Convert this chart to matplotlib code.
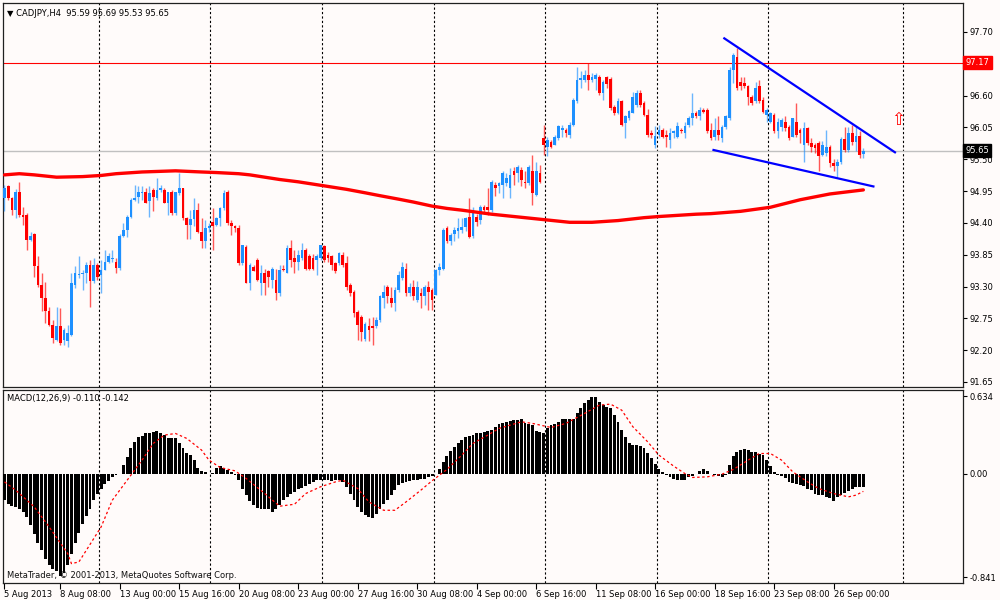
import matplotlib
matplotlib.use("Agg")
import matplotlib.pyplot as plt
import matplotlib.transforms as mtransforms
import numpy as np

# ---- CADJPY H4 candles (bar index 0 = 5 Aug 2013 20:00) ----
opens = [
    94.83, 95.03, 94.83, 94.63, 94.94, 94.54, 94.54, 94.11, 94.20, 93.65,
    93.33, 93.10, 92.87, 92.64, 92.38, 92.61, 92.38, 92.35, 92.47, 93.33,
    93.50, 93.52, 93.53, 93.67, 93.39, 93.67, 93.50, 93.59, 93.73, 93.78,
    93.73, 93.62, 94.18, 94.28, 94.51, 94.80, 94.85, 94.91, 94.94, 94.77,
    94.97, 94.83, 94.97, 94.97, 94.74, 94.94, 94.57, 94.91, 95.00, 94.48,
    94.37, 94.46, 94.63, 94.25, 94.08, 94.31, 94.42, 94.36, 94.48, 94.65,
    94.94, 94.40, 94.34, 94.31, 93.70, 93.99, 93.36, 93.64, 93.76, 93.36,
    93.53, 93.56, 93.41, 93.41, 93.18, 93.61, 93.53, 93.96, 93.79, 93.73,
    93.79, 93.93, 93.82, 93.79, 93.76, 93.79, 94.00, 93.85, 93.82, 93.70,
    93.70, 93.85, 93.70, 93.33, 93.21, 92.86, 92.78, 92.40, 92.61, 92.61,
    92.61, 92.72, 93.10, 93.30, 93.10, 93.01, 93.24, 93.44, 93.61, 93.18,
    93.30, 93.07, 93.18, 93.13, 93.30, 93.24, 93.15, 93.58, 93.61, 94.31,
    94.08, 94.20, 94.26, 94.28, 94.33, 94.51, 94.18, 94.50, 94.45, 94.68,
    94.67, 94.62, 95.06, 95.03, 95.05, 95.09, 95.00, 95.29, 95.26, 95.31,
    95.11, 95.09, 95.29, 94.88, 95.26, 95.86, 95.72, 95.80, 95.75, 95.86,
    96.01, 96.01, 95.92, 96.09, 96.50, 96.87, 96.87, 96.96, 96.87, 96.88,
    96.93, 96.64, 96.92, 96.88, 96.41, 96.30, 96.50, 96.12, 96.21, 96.30,
    96.44, 96.64, 96.47, 96.27, 95.95, 95.75, 95.92, 96.01, 95.92, 95.83,
    95.95, 95.89, 96.01, 95.95, 96.09, 96.21, 96.30, 96.24, 96.35, 96.35,
    96.01, 95.89, 96.01, 95.86, 96.06, 96.21, 97.04, 97.27, 96.84, 96.81,
    96.76, 96.58, 96.50, 96.76, 96.53, 96.27, 96.15, 96.27, 95.98, 96.06,
    96.15, 96.06, 95.89, 96.15, 96.01, 95.75, 96.04, 95.78, 95.75, 95.78,
    95.58, 95.60, 95.72, 95.43, 95.38, 95.45, 95.85, 95.66, 95.95, 95.80,
    95.90, 95.59,
]
highs = [
    95.06, 95.05, 94.85, 94.98, 95.11, 94.68, 94.57, 94.25, 94.22, 93.82,
    93.53, 93.37, 92.95, 92.72, 92.95, 92.93, 92.58, 92.64, 93.53, 93.65,
    93.82, 93.59, 93.73, 93.76, 93.79, 93.70, 93.76, 93.93, 93.88, 93.93,
    93.79, 94.20, 94.39, 94.54, 94.83, 95.06, 95.03, 95.04, 95.00, 95.03,
    95.00, 95.17, 95.06, 95.00, 94.94, 94.97, 94.94, 95.26, 95.00, 94.51,
    94.62, 94.83, 94.74, 94.48, 94.45, 94.40, 94.65, 94.51, 94.68, 94.97,
    94.97, 94.45, 94.37, 94.37, 94.02, 94.02, 93.70, 93.67, 93.79, 93.67,
    93.61, 93.59, 93.64, 93.61, 93.67, 93.67, 94.02, 94.10, 93.93, 93.93,
    94.06, 93.96, 93.87, 93.87, 93.87, 94.02, 94.02, 93.90, 93.85, 93.73,
    93.90, 93.90, 93.82, 93.36, 93.24, 92.90, 92.81, 92.69, 92.75, 92.78,
    92.78, 93.15, 93.33, 93.33, 93.30, 93.30, 93.56, 93.73, 93.70, 93.36,
    93.41, 93.39, 93.27, 93.33, 93.39, 93.27, 93.61, 93.70, 94.31, 94.35,
    94.22, 94.33, 94.48, 94.48, 94.51, 94.83, 94.68, 94.56, 94.71, 94.71,
    95.00, 95.14, 95.11, 95.11, 95.29, 95.26, 95.35, 95.37, 95.40, 95.37,
    95.29, 95.40, 95.58, 95.46, 95.40, 96.09, 95.89, 95.83, 95.92, 96.09,
    96.09, 96.04, 96.15, 96.56, 97.10, 97.02, 97.05, 97.16, 96.99, 96.99,
    96.96, 96.87, 96.94, 96.92, 96.44, 96.56, 96.53, 96.27, 96.35, 96.67,
    96.70, 96.70, 96.50, 96.36, 96.01, 96.07, 96.09, 96.04, 96.01, 96.04,
    96.01, 96.15, 96.04, 96.15, 96.24, 96.64, 96.33, 96.41, 96.38, 96.38,
    96.12, 96.21, 96.24, 96.09, 96.27, 97.10, 97.33, 97.42, 96.93, 96.93,
    96.78, 96.61, 96.84, 96.87, 96.58, 96.38, 96.32, 96.30, 96.21, 96.21,
    96.24, 96.09, 96.21, 96.47, 96.04, 96.15, 96.06, 95.86, 95.78, 95.81,
    95.81, 96.00, 95.75, 95.50, 95.50, 95.88, 96.05, 96.05, 96.10, 96.08,
    95.98, 95.69,
]
lows = [
    94.60, 94.80, 94.54, 94.48, 94.51, 94.37, 93.93, 94.08, 93.47, 93.30,
    92.87, 92.67, 92.61, 92.32, 92.35, 92.29, 92.29, 92.26, 92.45, 93.27,
    93.44, 93.24, 93.36, 92.95, 93.36, 93.41, 93.18, 93.58, 93.70, 93.73,
    93.53, 93.59, 94.15, 94.16, 94.48, 94.77, 94.74, 94.80, 94.74, 94.51,
    94.60, 94.80, 94.94, 94.74, 94.54, 94.54, 94.54, 94.88, 94.45, 94.13,
    94.13, 94.34, 94.22, 93.96, 93.96, 94.25, 93.93, 94.34, 94.34, 94.63,
    94.37, 94.19, 94.25, 93.67, 93.67, 93.36, 93.24, 93.56, 93.39, 93.15,
    93.15, 93.30, 93.27, 93.07, 93.13, 93.56, 93.53, 93.64, 93.53, 93.59,
    93.76, 93.59, 93.59, 93.59, 93.50, 93.76, 93.73, 93.73, 93.59, 93.53,
    93.67, 93.64, 93.24, 93.13, 92.78, 92.38, 92.35, 92.35, 92.35, 92.29,
    92.58, 92.69, 92.92, 93.01, 92.95, 92.87, 93.21, 93.41, 93.13, 93.13,
    93.07, 93.04, 92.92, 92.98, 92.90, 92.90, 93.15, 93.50, 93.59, 94.06,
    94.02, 94.08, 94.14, 94.22, 94.26, 94.14, 94.14, 94.34, 94.38, 94.56,
    94.53, 94.58, 94.86, 94.92, 94.83, 95.03, 94.83, 95.06, 95.11, 95.03,
    95.00, 95.06, 94.71, 94.86, 95.09, 95.58, 95.55, 95.69, 95.75, 95.83,
    95.89, 95.89, 95.86, 96.07, 96.47, 96.73, 96.84, 96.70, 96.84, 96.70,
    96.61, 96.53, 96.73, 96.35, 96.27, 96.28, 96.07, 95.86, 96.18, 96.30,
    96.41, 96.41, 96.24, 95.89, 95.86, 95.69, 95.86, 95.86, 95.72, 95.69,
    95.86, 95.86, 95.95, 95.86, 96.06, 96.10, 96.21, 96.18, 96.30, 95.95,
    95.83, 95.83, 95.83, 95.80, 96.03, 96.18, 96.81, 96.70, 96.70, 96.73,
    96.44, 96.44, 96.47, 96.47, 96.30, 96.15, 96.12, 95.95, 95.86, 95.98,
    95.98, 95.83, 95.89, 95.89, 95.78, 95.46, 95.75, 95.63, 95.60, 95.29,
    95.55, 95.55, 95.37, 95.30, 95.20, 95.42, 95.62, 95.62, 95.75, 95.65,
    95.53, 95.53,
]
closes = [
    95.00, 94.83, 94.63, 94.94, 94.54, 94.51, 94.11, 94.18, 93.65, 93.33,
    93.10, 92.87, 92.64, 92.41, 92.61, 92.32, 92.55, 92.49, 93.36, 93.53,
    93.52, 93.54, 93.67, 93.39, 93.67, 93.47, 93.59, 93.73, 93.82, 93.80,
    93.62, 94.18, 94.28, 94.51, 94.80, 94.83, 94.94, 94.94, 94.74, 94.91,
    94.85, 94.97, 95.00, 94.74, 94.94, 94.57, 94.94, 95.00, 94.48, 94.37,
    94.46, 94.63, 94.25, 94.08, 94.31, 94.34, 94.34, 94.48, 94.65, 94.91,
    94.40, 94.34, 94.31, 93.70, 94.02, 93.36, 93.67, 93.56, 93.41, 93.53,
    93.36, 93.47, 93.61, 93.18, 93.59, 93.59, 93.96, 93.76, 93.73, 93.85,
    93.93, 93.61, 93.61, 93.61, 93.82, 94.02, 93.76, 93.79, 93.67, 93.56,
    93.88, 93.67, 93.30, 93.18, 92.84, 92.64, 92.52, 92.66, 92.55, 92.58,
    92.72, 93.13, 93.21, 93.13, 93.01, 93.24, 93.50, 93.64, 93.18, 93.30,
    93.13, 93.30, 93.13, 93.30, 93.21, 93.07, 93.58, 93.64, 94.28, 94.08,
    94.19, 94.28, 94.31, 94.33, 94.48, 94.16, 94.62, 94.42, 94.68, 94.62,
    94.62, 95.11, 95.00, 95.09, 95.26, 95.17, 95.23, 95.23, 95.37, 95.14,
    95.09, 95.37, 94.91, 95.29, 95.11, 95.75, 95.83, 95.72, 95.89, 96.07,
    96.04, 95.95, 96.09, 96.53, 96.87, 96.90, 96.96, 96.87, 96.92, 96.96,
    96.64, 96.84, 96.80, 96.38, 96.30, 96.50, 96.09, 96.24, 96.33, 96.58,
    96.64, 96.44, 96.27, 95.92, 95.92, 95.90, 96.01, 95.89, 95.89, 95.95,
    95.98, 96.07, 95.98, 96.07, 96.21, 96.30, 96.24, 96.35, 96.32, 95.98,
    95.86, 96.01, 95.92, 96.06, 96.24, 97.04, 97.30, 96.73, 96.76, 96.76,
    96.58, 96.47, 96.73, 96.50, 96.32, 96.35, 96.30, 95.98, 96.15, 96.18,
    96.04, 95.86, 96.21, 95.92, 95.95, 96.04, 95.78, 95.72, 95.69, 95.55,
    95.75, 95.72, 95.43, 95.38, 95.45, 95.85, 95.66, 95.95, 95.80, 95.90,
    95.58, 95.65,
]

# moving average (red) sampled at bar indices
ma_bars = [0, 4, 8, 14, 21, 26, 30, 37, 46, 53, 57, 63, 66, 70, 74, 79, 86, 92,
           97, 101, 106, 110, 115, 119, 123, 131, 140, 146, 152, 158, 165, 172,
           176, 181, 186, 190, 198, 206, 214, 222, 231]
ma_vals = [95.23, 95.25, 95.23, 95.19, 95.20, 95.22, 95.25, 95.28, 95.30, 95.28,
           95.27, 95.25, 95.23, 95.19, 95.15, 95.11, 95.04, 94.98, 94.92, 94.87,
           94.81, 94.76, 94.69, 94.65, 94.62, 94.55, 94.49, 94.45, 94.41, 94.41,
           94.44, 94.49, 94.51, 94.53, 94.55, 94.56, 94.60, 94.67, 94.80, 94.90,
           94.97]

# MACD(12,26,9) main histogram, one value per bar
macd = [
    -0.214, -0.247, -0.263, -0.268, -0.282, -0.309, -0.350, -0.418, -0.486, -0.559,
    -0.622, -0.690, -0.744, -0.771, -0.790, -0.835, -0.810, -0.744, -0.649, -0.559,
    -0.480, -0.410, -0.344, -0.282, -0.214, -0.160, -0.119, -0.084, -0.056, -0.029,
    -0.010, 0.003, 0.071, 0.139, 0.207, 0.261, 0.297, 0.308, 0.329, 0.337,
    0.343, 0.351, 0.335, 0.316, 0.289, 0.289, 0.289, 0.248, 0.207, 0.172,
    0.153, 0.112, 0.049, 0.025, 0.014, 0.003, 0.009, 0.044, 0.063, 0.044,
    0.030, 0.017, -0.010, -0.051, -0.119, -0.173, -0.219, -0.255, -0.274, -0.282,
    -0.282, -0.282, -0.309, -0.282, -0.255, -0.214, -0.187, -0.160, -0.146, -0.119,
    -0.111, -0.100, -0.084, -0.065, -0.051, -0.046, -0.046, -0.051, -0.056, -0.046,
    -0.051, -0.065, -0.105, -0.160, -0.214, -0.268, -0.309, -0.336, -0.350, -0.355,
    -0.323, -0.282, -0.247, -0.214, -0.173, -0.132, -0.092, -0.078, -0.065, -0.056,
    -0.051, -0.046, -0.040, -0.040, -0.029, -0.018, 0.003, 0.036, 0.098, 0.145,
    0.188, 0.221, 0.253, 0.275, 0.297, 0.308, 0.316, 0.329, 0.337, 0.343,
    0.351, 0.357, 0.384, 0.405, 0.416, 0.424, 0.433, 0.438, 0.438, 0.443,
    0.416, 0.405, 0.397, 0.351, 0.343, 0.335, 0.370, 0.397, 0.403, 0.424,
    0.443, 0.446, 0.446, 0.446, 0.492, 0.533, 0.574, 0.600, 0.625, 0.625,
    0.587, 0.560, 0.547, 0.533, 0.479, 0.424, 0.357, 0.302, 0.253, 0.234,
    0.234, 0.226, 0.207, 0.172, 0.126, 0.079, 0.036, 0.017, -0.005, -0.024,
    -0.040, -0.046, -0.046, -0.046, -0.024, -0.018, -0.002, 0.025, 0.036, 0.025,
    0.003, -0.010, -0.018, -0.024, -0.010, 0.071, 0.145, 0.180, 0.194, 0.199,
    0.194, 0.180, 0.180, 0.166, 0.153, 0.117, 0.063, 0.017, -0.005, -0.018,
    -0.037, -0.065, -0.073, -0.084, -0.092, -0.100, -0.119, -0.132, -0.160, -0.173,
    -0.173, -0.187, -0.200, -0.219, -0.187, -0.173, -0.154, -0.138, -0.119, -0.105,
    -0.105, -0.110,
]

# signal line sampled at bar indices
sig_bars = [0, 3, 8, 12, 17, 18, 20, 22, 26, 29, 33, 37, 40, 43, 46, 49, 53, 55,
            58, 62, 65, 70, 74, 78, 81, 85, 89, 91, 95, 98, 102, 105, 108, 112,
            115, 119, 123, 126, 130, 133, 139, 142, 147, 151, 156, 160, 163, 166,
            169, 173, 176, 180, 183, 185, 189, 193, 196, 200, 203, 206, 209, 212,
            216, 219, 223, 227, 229, 231]
sig_vals = [-0.065, -0.132, -0.268, -0.431, -0.649, -0.730, -0.717, -0.622, -0.431,
            -0.214, -0.051, 0.112, 0.248, 0.316, 0.329, 0.289, 0.194, 0.112,
            0.052, 0.025, -0.037, -0.160, -0.263, -0.247, -0.160, -0.105, -0.065,
            -0.051, -0.119, -0.228, -0.296, -0.296, -0.228, -0.132, -0.056, 0.036,
            0.153, 0.248, 0.316, 0.370, 0.424, 0.411, 0.378, 0.411, 0.492, 0.560,
            0.568, 0.519, 0.384, 0.261, 0.153, 0.063, 0.003, -0.029, -0.024,
            -0.002, 0.036, 0.112, 0.166, 0.166, 0.112, 0.017, -0.065, -0.119,
            -0.160, -0.187, -0.173, -0.142]

# drawn objects: trend lines (bar, price) and levels
upper_line_bars = [193.6, 239.5]
upper_line_prices = [97.59, 95.62]
lower_line_bars = [190.7, 233.7]
lower_line_prices = [95.66, 95.03]
level_price = 97.17
bid_price = 95.65
arrow_bar, arrow_price = 240.4, 96.18

price_ticks = [91.65, 92.20, 92.75, 93.30, 93.85, 94.40, 94.95, 95.50, 96.05, 96.60, 97.15, 97.70]
time_tick_bars = [0, 15, 31, 47, 63, 79, 95, 111, 127, 143, 159, 175, 191, 207, 223]
time_tick_labels = ['5 Aug 2013', '8 Aug 08:00', '13 Aug 00:00', '15 Aug 16:00',
                    '20 Aug 08:00', '23 Aug 00:00', '27 Aug 16:00', '30 Aug 08:00',
                    '4 Sep 00:00', '6 Sep 16:00', '11 Sep 08:00', '16 Sep 00:00',
                    '18 Sep 16:00', '23 Sep 08:00', '26 Sep 00:00']
grid_bars = [25.4, 55.4, 85.4, 115.4, 145.4, 175.4, 205.4, 241.6]

BULL = '#1e90ff'
BEAR = '#ff0000'
BG = '#fffbfa'
FS = 6

plt.rcParams['font.family'] = ['DejaVu Sans']

fig = plt.figure(figsize=(10, 6), dpi=100, facecolor=BG)
ax = fig.add_axes([0.003, 1 - 387 / 600, 0.960, 384 / 600], facecolor=BG)
ax2 = fig.add_axes([0.003, 1 - 583 / 600, 0.960, 193.5 / 600], facecolor=BG)

o = np.array(opens)
h = np.array(highs)
l = np.array(lows)
c = np.array(closes)
idx = np.arange(len(o))
cols = np.where(c >= o, BULL, BEAR)

# candles
ax.vlines(idx, l, h, colors=cols, linewidth=1.0, alpha=0.65, zorder=3)
body = np.maximum(np.abs(c - o), 0.02)
ax.bar(idx, body, bottom=np.minimum(o, c), width=0.72, color=cols, linewidth=0, zorder=4)

# moving average
ax.plot(ma_bars, ma_vals, color='#ff0000', linewidth=2.4, zorder=5, solid_capstyle='round')

# levels
ax.axhline(level_price, color='#ff0000', linewidth=0.8, zorder=2)
ax.axhline(bid_price, color='#c0c0c0', linewidth=1.0, zorder=2)

# trend lines
ax.plot(upper_line_bars, upper_line_prices, color='#0000ff', linewidth=1.6, zorder=6)
ax.plot(lower_line_bars, lower_line_prices, color='#0000ff', linewidth=1.6, zorder=6)
ax.text(arrow_bar, arrow_price, '\u21e7', color='#ff0000', fontsize=12,
        ha='center', va='center', zorder=6)

for a in (ax, ax2):
    for g in grid_bars:
        a.axvline(g, color='black', linewidth=0.8, linestyle=(0, (2, 2)), zorder=1)
    a.set_xlim(-0.4, 257.8)
    for s in a.spines.values():
        s.set_color('#202020')
        s.set_linewidth(0.9)
    a.yaxis.tick_right()
    a.tick_params(axis='y', direction='out', length=3, width=0.8, pad=2,
                  labelsize=FS, colors='black')

ax.set_ylim(91.563, 98.201)
ax.set_yticks(price_ticks)
# the 97.15 label sits under the 97.17 level box, so it stays blank
ax.set_yticklabels(['' if abs(p - level_price) < 0.1 else '%.2f' % p for p in price_ticks])
ax.set_xticks([])

blend = mtransforms.blended_transform_factory(ax.transAxes, ax.transData)
ax.text(1.0025, level_price, '%.2f' % level_price, transform=blend, fontsize=FS,
        color='white', va='center', ha='left', zorder=10, clip_on=False,
        bbox=dict(facecolor='#ff0000', edgecolor='#ff0000', pad=1.6))
ax.text(1.0025, bid_price, '%.2f' % bid_price, transform=blend, fontsize=FS,
        color='white', va='center', ha='left', zorder=10, clip_on=False,
        bbox=dict(facecolor='black', edgecolor='black', pad=1.6))

ax.text(0.004, 0.985, '\u25bc CADJPY,H4  %.2f %.2f %.2f %.2f' % (o[-1], h[-1], l[-1], c[-1]),
        transform=ax.transAxes, fontsize=FS, va='top', ha='left', color='black')

# MACD panel
ax2.bar(idx, macd, width=0.78, color='black', linewidth=0, zorder=3)
ax2.plot(sig_bars, sig_vals, color='#ff0000', linewidth=0.9, linestyle=(0, (2, 2)), zorder=4)
ax2.set_ylim(-0.888, 0.687)
ax2.set_yticks([0.634, 0.0, -0.841])
ax2.set_yticklabels(['0.634', '0.00', '-0.841'])
ax2.set_xticks(time_tick_bars)
ax2.set_xticklabels(time_tick_labels, ha='left')
ax2.tick_params(axis='x', direction='out', length=4, width=0.8, pad=1,
                labelsize=FS, colors='black')
ax2.text(0.004, 0.975, 'MACD(12,26,9) %.3f %.3f' % (macd[-1], sig_vals[-1]),
         transform=ax2.transAxes, fontsize=FS, va='top', ha='left', color='black')
ax2.text(0.004, 0.015, 'MetaTrader, \u00a9 2001-2013, MetaQuotes Software Corp.',
         transform=ax2.transAxes, fontsize=FS, va='bottom', ha='left', color='#101010')

fig.savefig('out.png', dpi=100, facecolor=BG)
